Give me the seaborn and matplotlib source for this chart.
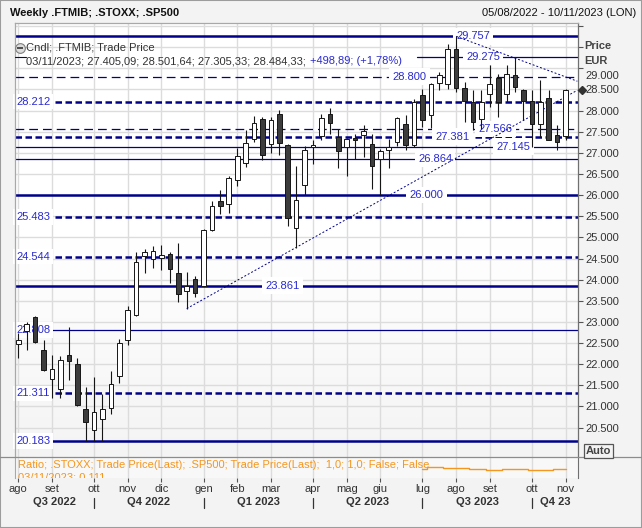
#!/usr/bin/env python3
"""
Weekly .FTMIB candlestick chart with support/resistance levels,
trend lines and the STOXX/SP500 ratio sub-panel.
"""
import matplotlib
matplotlib.use("Agg")
import matplotlib.pyplot as plt
import numpy as np
import pandas as pd
import seaborn as sns
from matplotlib.colors import LinearSegmentedColormap
from matplotlib.lines import Line2D
from matplotlib.patches import Rectangle

# ---- data ----
first_week = "2022-08-05"
opens = [22471, 22779, 23117, 22346, 21659, 21406, 22227, 22014, 20950, 20453,
         20713, 20973, 21721, 22582, 23157, 24560, 24499, 24522, 24600, 24158,
         23732, 24009, 23850, 25168, 25854, 25800, 26368, 26770, 27321, 27811,
         27203, 27929, 27179, 25232, 26249, 27139, 27399, 27913, 27376, 27139,
         27352, 27432, 27220, 26848, 27077, 27257, 27693, 27179, 28362, 27889,
         28653, 28639, 29467, 28535, 28204, 27794, 28403, 28781, 28403, 28835,
         28497, 28220, 27693, 28308, 27432, 27405]
highs = [22731, 22999, 23140, 22566, 22211, 22183, 22880, 22140, 21461, 21697,
         21304, 21832, 22606, 23370, 24655, 24735, 24797, 24830, 24655, 24877,
         24182, 24080, 25190, 25854, 26131, 26446, 27115, 27551, 27873, 27849,
         27849, 28024, 27200, 26690, 27156, 27314, 27929, 28071, 27558, 27361,
         27456, 27652, 27456, 27080, 27338, 27849, 27889, 28284, 28521, 28663,
         28914, 29569, 29757, 28677, 28480, 28481, 29072, 28875, 29072, 29275,
         28521, 28481, 28734, 28497, 27652, 28502]
lows = [22140, 22346, 22500, 21850, 21210, 21193, 21619, 21004, 20183, 20195,
        20190, 20831, 21555, 22447, 23133, 24158, 24276, 24238, 23921, 23472,
        23316, 23590, 23840, 25152, 25563, 25577, 26216, 26666, 27257, 26841,
        26997, 26959, 25263, 24749, 25996, 26746, 27297, 27456, 26642, 26453,
        26848, 26902, 26155, 26000, 26652, 27156, 27061, 27150, 27612, 27598,
        28497, 28521, 28440, 27731, 27534, 27574, 28085, 27849, 28204, 28440,
        27771, 27145, 27376, 27297, 27061, 27305]
closes = [22566, 22961, 22518, 21872, 21896, 22092, 22076, 21028, 20633, 20869,
          20933, 21541, 22511, 23275, 24418, 24655, 24678, 24593, 24245, 23654,
          23843, 23685, 25168, 25743, 25743, 26415, 26926, 27243, 27716, 26959,
          27787, 27234, 25469, 25878, 27077, 27196, 27835, 27707, 27044, 27321,
          27314, 27511, 26690, 27037, 27139, 27825, 27179, 28204, 27771, 28639,
          28835, 29467, 28535, 28220, 27731, 28204, 28639, 28204, 28875, 28559,
          28220, 27676, 28204, 27314, 27257, 28484]

level_values = [29757, 29275, 28800, 28212, 27566, 27381, 27145, 26864,
                26000, 25483, 24544, 23861, 22808, 21311, 20183]

ratio_start = 48
ratio_values = [0.1108, 0.1118, 0.1118, 0.1112, 0.1112, 0.1112, 0.1108, 0.1108,
                0.1104, 0.1104, 0.1108, 0.1108, 0.1108, 0.1104, 0.1104, 0.1104,
                0.1108, 0.1108]

trend_up_x = [20, 66.4]
trend_up_y = [23316, 28481]
trend_down_x = [52, 66.4]
trend_down_y = [29757, 28694]

month_names = ["gen", "feb", "mar", "apr", "mag", "giu",
               "lug", "ago", "set", "ott", "nov", "dic"]
quarter_names = ["Q3 2022", "Q4 2022", "Q1 2023", "Q2 2023", "Q3 2023", "Q4 23"]

title = "Weekly .FTMIB; .STOXX; .SP500"
date_range = "05/08/2022 - 10/11/2023 (LON)"
legend_name = "Cndl; .FTMIB; Trade Price"
last_bar = "03/11/2023; 27.405,09; 28.501,64; 27.305,33; 28.484,33;"
last_change = "+498,89; (+1,78%)"
ratio_name = ("Ratio; .STOXX; Trade Price(Last); .SP500; Trade Price(Last);  "
              "1,0; 1,0; False; False")
ratio_last = "03/11/2023; 0,111"
last_price = 28484

# ---- styles ----
NAVY = "#00008b"
LABEL_BLUE = "#2a2ad0"
TXT = "#333333"
ORANGE = "#f5961e"
line_kinds = {
    "thick": dict(lw=1.8, ls="-"),
    "thin": dict(lw=0.9, ls="-"),
    "thickdash": dict(lw=1.8, ls=(0, (2.6, 1.4))),
    "thindash": dict(lw=0.9, ls=(0, (7, 4))),
}
level_kind = {29757: "thick", 29275: "thin", 28800: "thindash", 28212: "thickdash",
              27566: "thindash", 27381: "thickdash", 27145: "thin", 26864: "thin",
              26000: "thick", 25483: "thickdash", 24544: "thickdash", 23861: "thick",
              22808: "thin", 21311: "thickdash", 20183: "thick"}
# x position (candle index) of the centred labels; others sit at the left edge
label_at = {29757: 54.0, 29275: 55.2, 28800: 46.5, 27566: 56.7, 27381: 51.6,
            27145: 58.8, 26864: 49.5, 26000: 48.5, 23861: 31.4}
line_start = {29275: 47.3}

W, H = 642, 528
XLIM = (-0.392, 66.44)
YLIM = (19805, 30072)


def fx(px):
    return px / W


def fy(py):
    return 1 - py / H


def fmt(v):
    return f"{v:,.0f}".replace(",", ".")


def main() -> None:
    sns.set_style("white")
    plt.rcParams["font.family"] = ["Liberation Sans", "DejaVu Sans"]
    plt.rcParams["font.size"] = 8

    o, h, l, c = map(np.asarray, (opens, highs, lows, closes))
    n = len(o)
    x = np.arange(n)
    dates = pd.date_range(first_week, periods=n, freq="7D")
    month_first = [i for i in range(n) if i == 0 or dates[i].month != dates[i - 1].month]
    quarter_first = [i for i in month_first if i > 0 and dates[i].month in (1, 4, 7, 10)]

    fig = plt.figure(figsize=(W / 100, H / 100), dpi=100, facecolor="#f3f3f3")
    ax = fig.add_axes([fx(15), fy(457), fx(562.7), 434 / H])
    ax2 = fig.add_axes([fx(15), fy(478), fx(562.7), 21 / H], sharex=ax)

    # background gradient
    cmap = LinearSegmentedColormap.from_list("bg", ["#ffffff", "#ffffff", "#f4f4f4"])
    ax.imshow(np.linspace(0, 1, 256).reshape(-1, 1), cmap=cmap, aspect="auto",
              extent=[XLIM[0], XLIM[1], YLIM[0], YLIM[1]], origin="upper", zorder=0)
    ax2.set_facecolor("#f8f8f8")

    # ---- main panel ----
    ax.set_xlim(*XLIM)
    ax.set_ylim(*YLIM)
    ax.set_xticks(month_first)
    yt = list(range(20500, 30001, 500))
    ax.set_yticks(yt)
    ylabels = ax.set_yticklabels([fmt(v) if v <= 28500 else "" for v in yt])
    for t in ylabels:
        if t.get_text() == "25.000":
            t.set_fontweight("bold")
    ax.grid(True, color="#dcdcdc", lw=1.0)
    ax.set_axisbelow(True)
    ax.tick_params(axis="x", length=0, labelbottom=False, bottom=False)
    ax.tick_params(axis="y", left=False, labelleft=False, right=True, labelright=True,
                   length=3.6, width=0.8, color="#555555", pad=2.2,
                   labelsize=8, labelcolor=TXT)
    ax.text(fx(585 - 15) * W / 562.7, 28812, "29.000", transform=ax.get_yaxis_transform(),
            ha="left", va="center", fontsize=8, color=TXT, clip_on=False)

    for sp, col in (("top", "#a8a8a8"), ("left", "#a8a8a8"), ("right", "#707070")):
        ax.spines[sp].set_color(col)
        ax.spines[sp].set_linewidth(0.9)
    ax.spines["bottom"].set_visible(False)

    # levels
    for v in level_values:
        st = line_kinds[level_kind[v]]
        x0 = line_start.get(v, XLIM[0])
        ax.plot([x0, XLIM[1]], [v, v], color=NAVY, lw=st["lw"], ls=st["ls"], zorder=2)
        if v in label_at:
            ax.text(label_at[v], v, fmt(v), ha="center", va="center", fontsize=8,
                    color=LABEL_BLUE, zorder=2.5,
                    bbox=dict(boxstyle="square,pad=0.3", fc="white", ec="none"))
        else:
            ax.text(XLIM[0] + 0.12, v, fmt(v), ha="left", va="center", fontsize=8,
                    color=LABEL_BLUE, zorder=2.5,
                    bbox=dict(boxstyle="square,pad=0.25", fc="white", ec="none"))

    # trend lines
    ax.plot(trend_up_x, trend_up_y, color=NAVY, lw=0.7, ls=(0, (2, 2)), zorder=3)
    ax.plot(trend_down_x, trend_down_y, color=NAVY, lw=0.7, ls=(0, (2, 2)), zorder=3)

    # candles
    up = c >= o
    ax.vlines(x, l, h, colors="#151515", linewidth=0.8, zorder=4)
    bottoms = np.minimum(o, c)
    heights = np.maximum(np.abs(c - o), 20)
    ax.bar(x, heights, bottom=bottoms, width=0.55,
           color=np.where(up, "white", "#3c3c3c"), edgecolor="#151515",
           linewidth=0.7, zorder=5)

    # last price marker
    ax.plot([1.0071], [last_price], marker="D", ms=4.5, color="#333333",
            transform=ax.get_yaxis_transform(), clip_on=False, zorder=6)

    # ---- ratio panel ----
    ratio_x = np.arange(ratio_start, ratio_start + len(ratio_values))
    sns.lineplot(x=ratio_x, y=ratio_values, ax=ax2, color=ORANGE, lw=1.0,
                 drawstyle="steps-mid", zorder=3)
    ax2.set_ylim(0.1073, 0.1157)
    ax2.set_xlim(*XLIM)
    ax2.set_xlabel("")
    ax2.set_ylabel("")
    ax2.set_yticks([])
    ax2.set_xticks(month_first)
    ax2.set_xticklabels([month_names[dates[i].month - 1] for i in month_first])
    ax2.grid(True, axis="x", color="#dcdcdc", lw=1.0)
    ax2.set_axisbelow(True)
    ax2.tick_params(axis="x", bottom=True, length=3, width=0.8, color="#555555",
                    pad=1.5, labelsize=8, labelcolor=TXT)
    for sp in ("top", "bottom"):
        ax2.spines[sp].set_visible(False)
    ax2.spines["left"].set_color("#a8a8a8")
    ax2.spines["right"].set_color("#707070")
    ax2.text(0.005, 0.62, ratio_name, transform=ax2.transAxes, ha="left", va="center",
             fontsize=8, color=ORANGE, zorder=4)
    ax2.text(0.005, 0.0, ratio_last, transform=ax2.transAxes, ha="left", va="center",
             fontsize=8, color=ORANGE, zorder=4, clip_on=True)

    # quarters
    bounds = [XLIM[0]] + quarter_first + [XLIM[1]]
    xtr = ax2.get_xaxis_transform()
    for k, name in enumerate(quarter_names):
        ax2.text((bounds[k] + bounds[k + 1]) / 2, -1.16, name, transform=xtr,
                 ha="center", va="center", fontsize=8, fontweight="bold", color=TXT)
    for b in quarter_first:
        ax2.plot([b, b], [-0.95, -1.45], transform=xtr, clip_on=False,
                 color="#333333", lw=0.9)

    # ---- header, legend and frame ----
    fig.text(fx(10), fy(13), title, ha="left", va="center", fontsize=8,
             fontweight="bold", color="#111111")
    fig.text(fx(636), fy(13), date_range, ha="right", va="center", fontsize=8,
             color="#111111")
    fig.add_artist(Line2D([fx(19.5)], [fy(48)], marker="o", ms=7, mfc="#dcdcdc",
                          mec="#808080", mew=0.8, transform=fig.transFigure))
    fig.add_artist(Line2D([fx(19.5)], [fy(48)], marker="_", ms=4, mec="#333333",
                          mew=1.2, transform=fig.transFigure))
    fig.add_artist(Line2D([fx(15), fx(26)], [fy(56.7)] * 2, color=NAVY, lw=0.8,
                          transform=fig.transFigure))
    fig.text(fx(26), fy(48), legend_name, ha="left", va="center", fontsize=8, color=TXT)
    t1 = fig.text(fx(26), fy(61.5), last_bar, ha="left", va="center", fontsize=8,
                  color=TXT)
    bb = t1.get_window_extent(renderer=fig.canvas.get_renderer())
    fig.text((bb.x1 + 4) / W, fy(61.5), last_change, ha="left", va="center",
             fontsize=8, color=LABEL_BLUE)

    fig.text(fx(584), fy(46), "Price", ha="left", va="center", fontsize=8,
             fontweight="bold", color="#444444")
    fig.text(fx(584), fy(61), "EUR", ha="left", va="center", fontsize=8,
             fontweight="bold", color="#444444")
    fig.text(fx(598.5), fy(451), "Auto", ha="center", va="center", fontsize=8,
             fontweight="bold", color="#444444",
             bbox=dict(boxstyle="square,pad=0.15", fc="#f3f3f3", ec="#555555", lw=0.9))

    fig.add_artist(Line2D([0, 1], [fy(457)] * 2, color="#8c8c8c", lw=0.9,
                          transform=fig.transFigure))
    fig.add_artist(Rectangle((0, 0), 1, 1, transform=fig.transFigure, fill=False,
                             ec="#9c9c9c", lw=1.5))

    fig.savefig("out.png", dpi=100, facecolor=fig.get_facecolor())
    plt.close(fig)


if __name__ == "__main__":
    main()
